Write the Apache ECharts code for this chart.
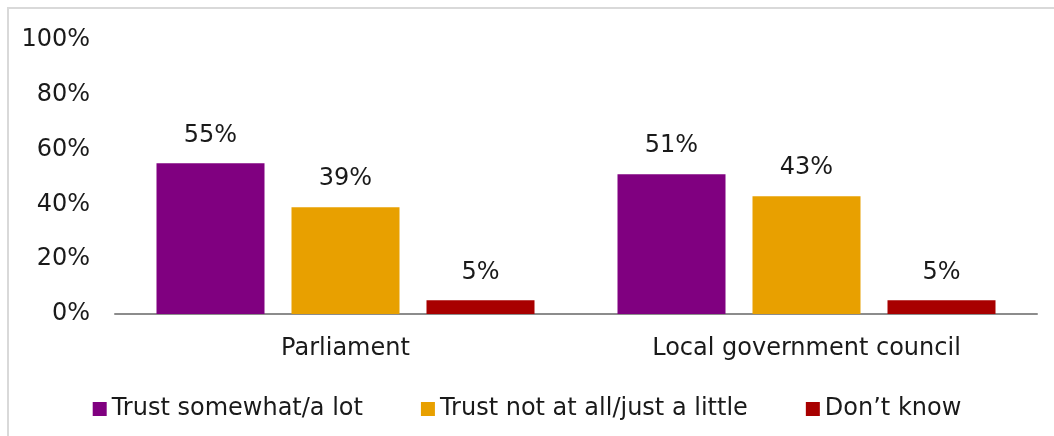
<!DOCTYPE html>
<html>
<head>
<meta charset="utf-8">
<script src="https://cdn.jsdelivr.net/npm/echarts@6/dist/echarts.min.js"></script>
<style>
  html, body { margin: 0; padding: 0; background: #fff; overflow: hidden; }
  #frame {
    position: absolute; left: 7px; top: 7px; width: 1047px; height: 429px;
    box-sizing: border-box;
    border-left: 2px solid #d9d9d9; border-top: 2px solid #d9d9d9;
  }
  #main { position: absolute; left: 0; top: 0; width: 1054px; height: 436px; }
</style>
</head>
<body>
<div id="frame"></div>
<div id="main"></div>
<script>
const categories = ['Parliament', 'Local government council'];
const seriesNames = ['Trust somewhat/a lot', 'Trust not at all/just a little', 'Don\u2019t know'];
const trustSomewhatValues = [55, 51];
const trustNotValues = [39, 43];
const dontKnowValues = [5, 5];
const yTicks = [0, 20, 40, 60, 80, 100];
const colors = ['#800080', '#e8a000', '#a80000'];

const font = '"DejaVu Sans", sans-serif';
const chart = echarts.init(document.getElementById('main'));

const values = [trustSomewhatValues, trustNotValues, dontKnowValues];
chart.setOption({
  animation: false,
  textStyle: { fontFamily: font },
  grid: { left: 115, right: 17, top: 40, bottom: 122 },
  legend: {
    left: 'center',
    top: 392,
    itemWidth: 14,
    itemHeight: 14,
    itemGap: 58,
    icon: 'rect',
    textStyle: { fontSize: 24, color: '#1a1a1a', fontFamily: font },
    data: seriesNames
  },
  xAxis: {
    type: 'category',
    data: categories,
    axisLine: { lineStyle: { color: '#8c8c8c', width: 2 } },
    axisTick: { show: false },
    axisLabel: { fontSize: 24, color: '#1a1a1a', margin: 23, fontFamily: font }
  },
  yAxis: {
    type: 'value',
    min: yTicks[0],
    max: yTicks[yTicks.length - 1],
    interval: 20,
    splitLine: { show: false },
    axisLine: { show: false },
    axisTick: { show: false },
    axisLabel: { fontSize: 24, color: '#1a1a1a', margin: 25, formatter: '{value}%', fontFamily: font }
  },
  series: seriesNames.map((name, i) => ({
    name: name,
    type: 'bar',
    barWidth: 108,
    barGap: '25%',
    itemStyle: { color: colors[i] },
    label: {
      show: true,
      position: 'top',
      distance: 16,
      formatter: '{c}%',
      fontSize: 24,
      color: '#1a1a1a',
      fontFamily: font
    },
    data: values[i]
  }))
});
</script>
</body>
</html>
